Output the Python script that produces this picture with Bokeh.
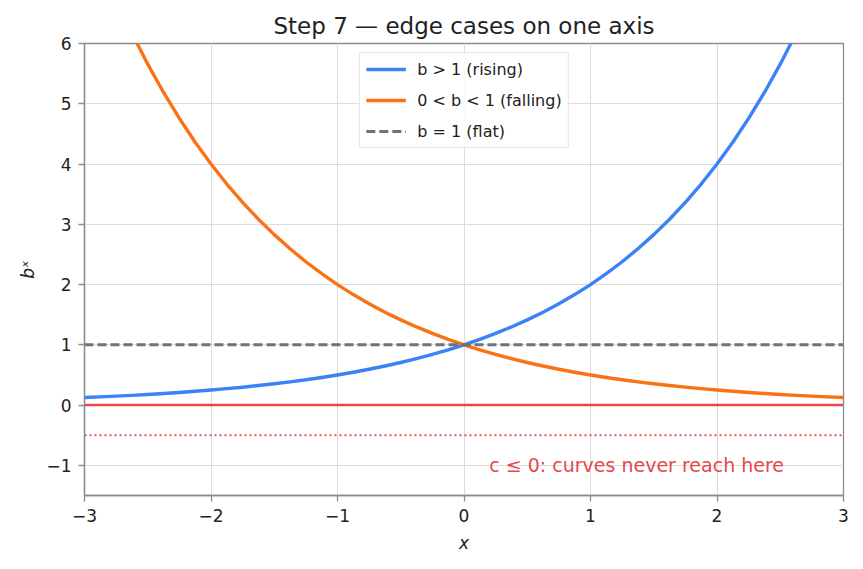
from bokeh.plotting import figure
from bokeh.models import Range1d, FixedTicker, Label, Legend, LegendItem, Span
from bokeh.embed import file_html
from bokeh.resources import INLINE

# Sampled curves on an eighth-step grid
x_vals = [-3, -2.875, -2.75, -2.625, -2.5, -2.375, -2.25, -2.125,
          -2, -1.875, -1.75, -1.625, -1.5, -1.375, -1.25, -1.125,
          -1, -0.875, -0.75, -0.625, -0.5, -0.375, -0.25, -0.125,
          0, 0.125, 0.25, 0.375, 0.5, 0.625, 0.75, 0.875,
          1, 1.125, 1.25, 1.375, 1.5, 1.625, 1.75, 1.875,
          2, 2.125, 2.25, 2.375, 2.5, 2.625, 2.75, 2.875, 3]
rising = [0.125, 0.1363, 0.1487, 0.1621, 0.1768, 0.1928, 0.2102, 0.2293,
          0.25, 0.2726, 0.2973, 0.3242, 0.3536, 0.3855, 0.4204, 0.4585,
          0.5, 0.5453, 0.5946, 0.6484, 0.7071, 0.7711, 0.8409, 0.9170,
          1.0, 1.0905, 1.1892, 1.2968, 1.4142, 1.5422, 1.6818, 1.8340,
          2.0, 2.1810, 2.3784, 2.5937, 2.8284, 3.0844, 3.3636, 3.6680,
          4.0, 4.3620, 4.7568, 5.1874, 5.6569, 6.1688, 6.7272, 7.3360, 8.0]
falling = [8.0, 7.3360, 6.7272, 6.1688, 5.6569, 5.1874, 4.7568, 4.3620,
           4.0, 3.6680, 3.3636, 3.0844, 2.8284, 2.5937, 2.3784, 2.1810,
           2.0, 1.8340, 1.6818, 1.5422, 1.4142, 1.2968, 1.1892, 1.0905,
           1.0, 0.9170, 0.8409, 0.7711, 0.7071, 0.6484, 0.5946, 0.5453,
           0.5, 0.4585, 0.4204, 0.3855, 0.3536, 0.3242, 0.2973, 0.2726,
           0.25, 0.2293, 0.2102, 0.1928, 0.1768, 0.1621, 0.1487, 0.1363, 0.125]
flat = [1.0] * len(x_vals)

x_ticks = [-3, -2, -1, 0, 1, 2, 3]
y_ticks = [-1, 0, 1, 2, 3, 4, 5, 6]
zero_level = 0.0
below_level = -0.5

FONT = "DejaVu Sans"
BLUE = "#3b82f6"
ORANGE = "#f97316"
GRAY = "#6b7280"
RED = "#e5484d"
SPINE = "#8c8c8c"

p = figure(width=863, height=569, output_backend="svg", toolbar_location=None,
           x_range=Range1d(-3, 3), y_range=Range1d(-1.5, 6),
           min_border_left=84, min_border_right=20, min_border_top=43, min_border_bottom=74)

p.title.text = "Step 7 \u2014 edge cases on one axis"
p.title.align = "center"
p.title.text_font = FONT
p.title.text_font_size = "23px"
p.title.text_font_style = "normal"
p.title.text_color = "#222222"
p.title.standoff = 10

p.outline_line_color = SPINE
p.outline_line_width = 1.3
p.background_fill_color = "white"
p.border_fill_color = "white"

for ax in (p.xaxis[0], p.yaxis[0]):
    ax.axis_line_color = SPINE
    ax.axis_line_width = 1.3
    ax.major_tick_line_color = SPINE
    ax.major_tick_line_width = 1.3
    ax.major_tick_out = 6
    ax.major_tick_in = 0
    ax.minor_tick_line_color = None
    ax.major_label_text_font = FONT
    ax.major_label_text_font_size = "17px"
    ax.major_label_text_color = "#222222"
    ax.axis_label_text_font = FONT
    ax.axis_label_text_font_size = "17px"
    ax.axis_label_text_font_style = "italic"
    ax.axis_label_text_color = "#222222"
    ax.major_label_standoff = 7

def minus(v):
    return str(v).replace("-", "\u2212")

p.xaxis.ticker = FixedTicker(ticks=x_ticks)
p.yaxis.ticker = FixedTicker(ticks=y_ticks)
p.xaxis.major_label_overrides = {t: minus(t) for t in x_ticks}
p.yaxis.major_label_overrides = {t: minus(t) for t in y_ticks}
p.xaxis.axis_label = "x"
p.yaxis.axis_label = "b\u02e3"
p.xaxis.axis_label_standoff = 8
p.yaxis.axis_label_standoff = 5

p.xgrid.ticker = FixedTicker(ticks=x_ticks)
p.ygrid.ticker = FixedTicker(ticks=y_ticks)
p.grid.grid_line_color = "#dcdcdc"
p.grid.grid_line_width = 1

# Reference levels for c <= 0
p.add_layout(Span(location=zero_level, dimension="width", line_color=RED, line_width=2.5))
p.add_layout(Span(location=below_level, dimension="width", line_color=RED,
                  line_width=2, line_dash="2 3", line_alpha=0.95))

r_rise = p.line(x_vals, rising, line_color=BLUE, line_width=3.4, line_join="round")
r_fall = p.line(x_vals, falling, line_color=ORANGE, line_width=3.4, line_join="round")
r_flat = p.line(x_vals, flat, line_color=GRAY, line_width=3, line_dash="9 4")

p.add_layout(Label(x=0.2, y=-1.0, text="c \u2264 0: curves never reach here",
                   text_color=RED, text_font=FONT, text_font_size="19px",
                   text_baseline="middle", text_align="left"))

legend = Legend(items=[
    LegendItem(label="b > 1 (rising)", renderers=[r_rise]),
    LegendItem(label="0 < b < 1 (falling)", renderers=[r_fall]),
    LegendItem(label="b = 1 (flat)", renderers=[r_flat]),
], location="top_center")
legend.label_text_font = FONT
legend.label_text_font_size = "16px"
legend.label_text_color = "#222222"
legend.glyph_width = 40
legend.glyph_height = 20
legend.label_height = 20
legend.spacing = 11
legend.padding = 6
legend.margin = 9
legend.label_standoff = 12
legend.border_line_color = "#cccccc"
legend.border_line_width = 1
legend.background_fill_color = "white"
legend.background_fill_alpha = 0.85
p.add_layout(legend)

open("out.html", "w").write(file_html(p, INLINE))
